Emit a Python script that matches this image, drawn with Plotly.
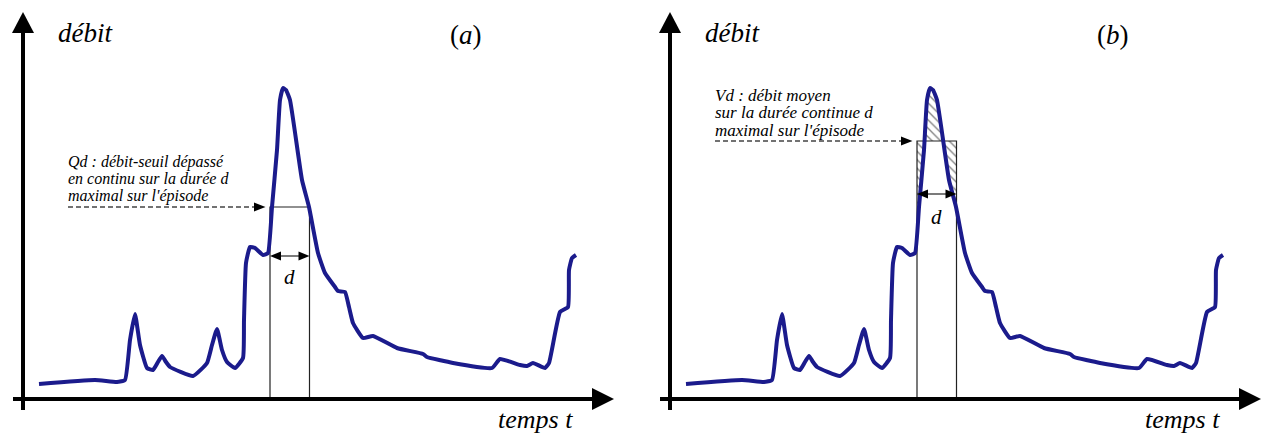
import numpy as np
import plotly.graph_objects as go

# ---------------- data (arbitrary units: time t, flow Q) ----------------
time = [16, 72, 94, 102, 107, 112, 117, 124, 130, 135, 139, 143, 147, 170, 184, 189, 194,
        199, 204, 212, 220, 221, 223, 227, 232, 240, 245, 249, 254, 257, 260, 263, 267,
        279, 286, 295, 302, 312, 315, 322, 326, 330, 340, 350, 374, 400, 404, 430, 469,
        477, 497, 504, 510, 522, 526, 537, 545, 546, 549, 553]
flow = [15, 19, 17, 19, 59, 85, 54, 31, 29, 37, 43, 37, 32, 23, 36, 54, 70,
        49, 37, 31, 41, 79, 136, 152, 151, 144, 146, 192, 249, 299, 311, 309, 299,
        219, 192, 146, 126, 112, 108, 107, 92, 76, 61, 63, 51, 45, 42, 36, 31,
        40, 34, 33, 36, 31, 36, 87, 92, 129, 141, 144]

d_start = 247      # start of the duration window
d_len = 39.5       # duration d
Qd = 192           # threshold flow exceeded continuously over d (panel a)
Vd = 258           # mean flow over d (panel b)

panel_titles = ["(<i>a</i>)", "(<i>b</i>)"]
text_a = ["Qd : débit-seuil dépassé", "en continu sur la durée d", "maximal sur l'épisode"]
text_b = ["Vd : débit moyen", "sur la durée continue d", "maximal sur l'épisode"]

# ---------------- style ----------------
CURVE = "#1b1b8c"
SERIF = "Liberation Serif"
W, H = 1263, 436

fig = go.Figure()
panels = [
    dict(xr="x", yr="y", level=Qd, title=panel_titles[0], text=text_a, hatch=False,
         darrow_q=143, d_q=122, text_q0=237.5, text_dq=17, text_size=16),
    dict(xr="x2", yr="y2", level=Vd, title=panel_titles[1], text=text_b, hatch=True,
         darrow_q=205, d_q=182, text_q0=304, text_dq=17.5, text_size=17),
]
shapes, annotations = [], []

for p in panels:
    xr, yr = p["xr"], p["yr"]
    if p["hatch"]:
        # region between the curve and the mean level over the window d
        xs = np.linspace(d_start, d_start + d_len, 300)
        ys = np.interp(xs, time, flow)
        px = np.concatenate([xs, xs[::-1]])
        py = np.concatenate([ys, np.full_like(xs, p["level"])])
        fig.add_trace(go.Scatter(
            x=px, y=py, xaxis=xr, yaxis=yr, mode="lines", fill="toself",
            fillcolor="rgba(0,0,0,0)", line=dict(width=0),
            fillpattern=dict(shape="\\", fgcolor="black", bgcolor="rgba(0,0,0,0)",
                             size=6, solidity=0.22),
            hoverinfo="skip", showlegend=False))
    fig.add_trace(go.Scatter(
        x=time, y=flow, xaxis=xr, yaxis=yr, mode="lines",
        line=dict(color=CURVE, width=4, shape="spline", smoothing=0.4),
        hoverinfo="skip", showlegend=False))

    # axes with arrowheads
    shapes.append(dict(type="line", xref=xr, yref=yr, x0=0, x1=0, y0=-11, y1=370,
                       line=dict(color="black", width=4)))
    shapes.append(dict(type="line", xref=xr, yref=yr, x0=-10, x1=572, y0=0, y1=0,
                       line=dict(color="black", width=4)))
    shapes.append(dict(type="path", xref=xr, yref=yr, path="M -11 366 L 11 366 L 0 387 Z",
                       fillcolor="black", line=dict(width=0)))
    shapes.append(dict(type="path", xref=xr, yref=yr, path="M 569 11 L 569 -11 L 591 0 Z",
                       fillcolor="black", line=dict(width=0)))
    # duration rectangle
    shapes.append(dict(type="rect", xref=xr, yref=yr, x0=d_start, x1=d_start + d_len,
                       y0=0, y1=p["level"], line=dict(color="#222222", width=1.2),
                       fillcolor="rgba(0,0,0,0)", layer="below"))
    # dashed pointer
    shapes.append(dict(type="line", xref=xr, yref=yr, x0=45, x1=233, y0=p["level"],
                       y1=p["level"], line=dict(color="#444444", width=1.3, dash="5px,3px")))
    shapes.append(dict(type="path", xref=xr, yref=yr,
                       path=f"M 231 {p['level']+4.5} L 231 {p['level']-4.5} L 242.5 {p['level']} Z",
                       fillcolor="black", line=dict(width=0)))
    # double arrow for d
    q = p["darrow_q"]
    x0, x1 = d_start, d_start + d_len
    shapes.append(dict(type="line", xref=xr, yref=yr, x0=x0 + 8, x1=x1 - 8, y0=q, y1=q,
                       line=dict(color="#333333", width=1.3)))
    shapes.append(dict(type="path", xref=xr, yref=yr,
                       path=f"M {x0+11} {q+4.5} L {x0+11} {q-4.5} L {x0} {q} Z",
                       fillcolor="black", line=dict(width=0)))
    shapes.append(dict(type="path", xref=xr, yref=yr,
                       path=f"M {x1-11} {q+4.5} L {x1-11} {q-4.5} L {x1} {q} Z",
                       fillcolor="black", line=dict(width=0)))

    def ann(x, y, text, size, xanchor="center"):
        annotations.append(dict(x=x, y=y, xref=xr, yref=yr, text=text, showarrow=False,
                                xanchor=xanchor, yanchor="middle",
                                font=dict(family=SERIF, size=size, color="black")))

    ann(x0 + d_len / 2, p["d_q"], "<i>d</i>", 21)
    ann(62, 366, "<i>débit</i>", 27)
    ann(443, 364, p["title"], 27)
    ann(512, -20, "<i>temps t</i>", 26)
    for i, line in enumerate(p["text"]):
        ann(43, p["text_q0"] - i * p["text_dq"], f"<i>{line}</i>", p["text_size"],
            xanchor="left")

fig.update_layout(
    width=W, height=H, margin=dict(l=0, r=0, t=0, b=0),
    paper_bgcolor="white", plot_bgcolor="white",
    shapes=shapes, annotations=annotations, showlegend=False,
    xaxis=dict(domain=[0, 616 / W], range=[-23, 593], visible=False, fixedrange=True),
    yaxis=dict(domain=[0, 1], range=[-37, 399], visible=False, fixedrange=True),
    xaxis2=dict(domain=[647 / W, 1], range=[-23, 593], visible=False, fixedrange=True, anchor="y2"),
    yaxis2=dict(domain=[0, 1], range=[-37, 399], visible=False, fixedrange=True, anchor="x2"),
)

fig.write_html("out.html", config={"displayModeBar": False},
               post_script="document.body.style.margin='0';document.body.style.overflow='hidden';")
